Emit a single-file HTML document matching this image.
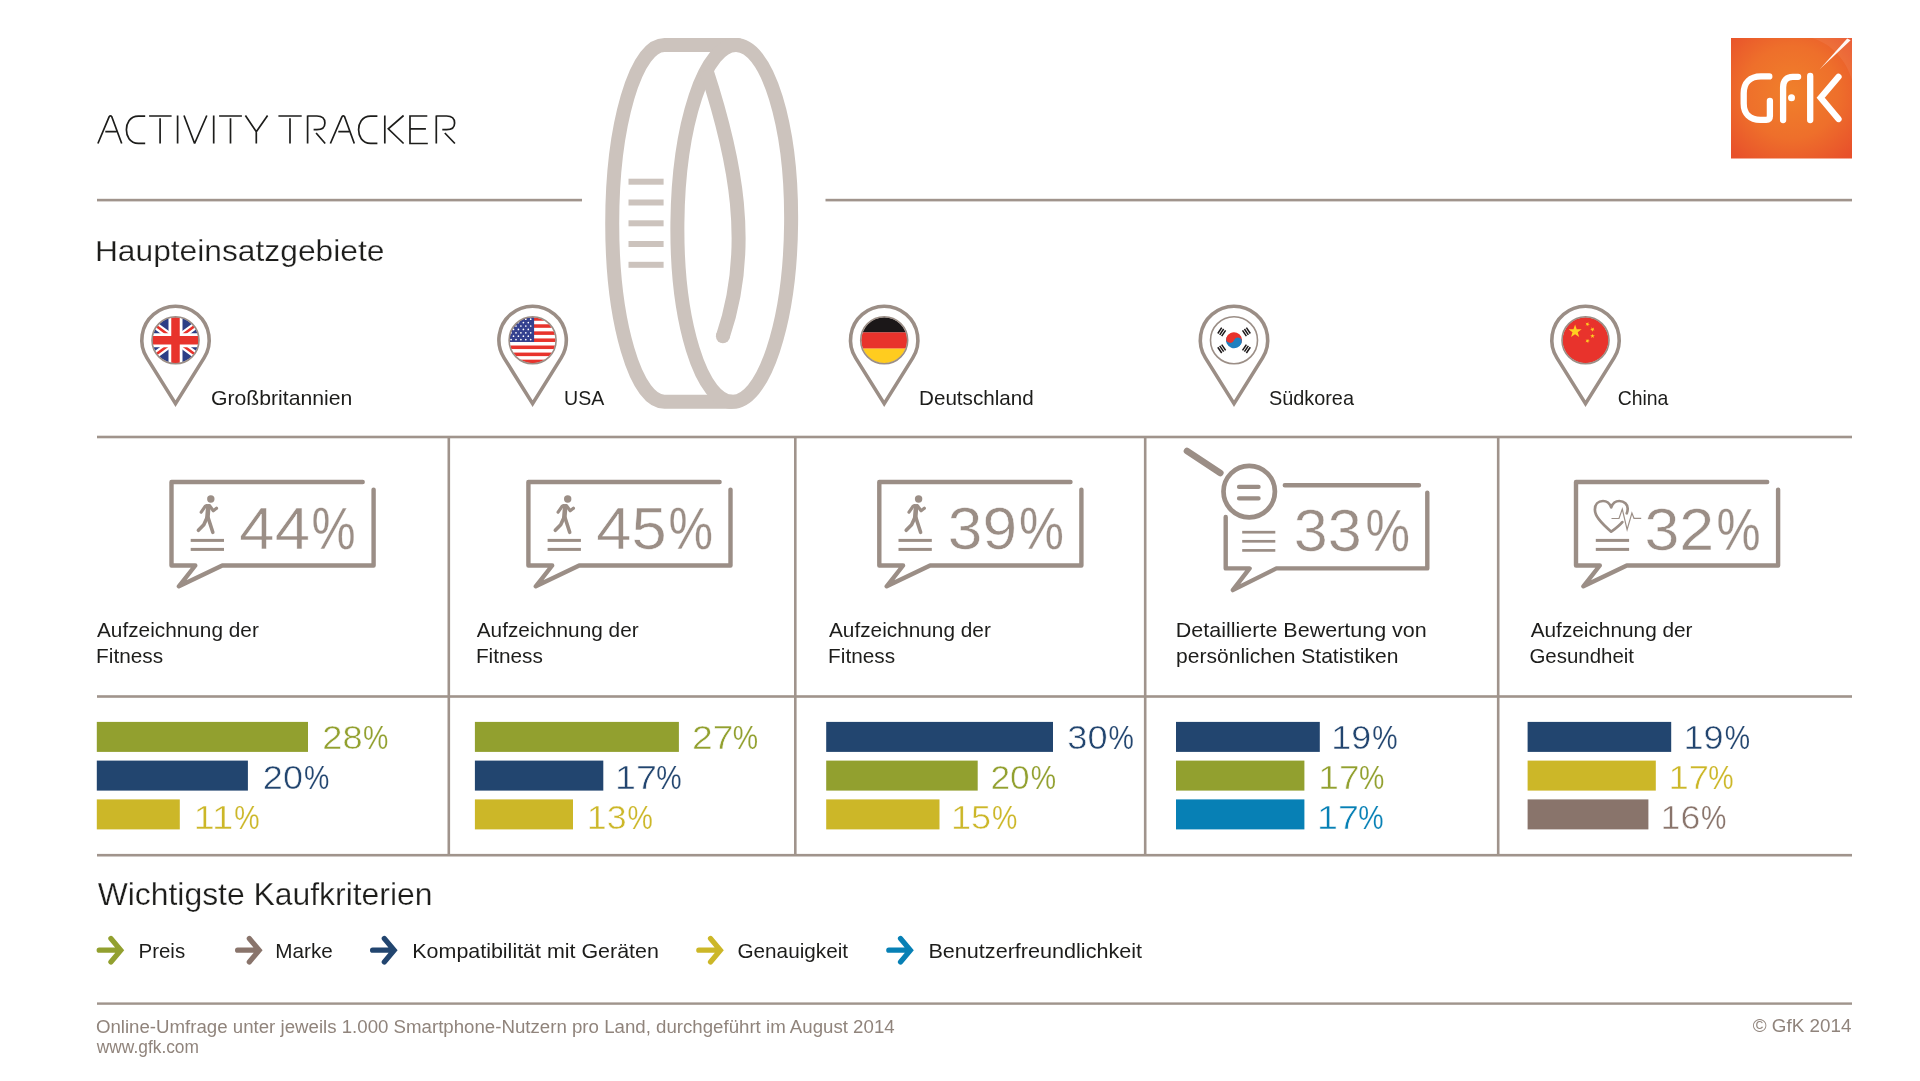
<!DOCTYPE html>
<html lang="de"><head><meta charset="utf-8"><title>Activity Tracker</title>
<style>
html,body{margin:0;padding:0;background:#fff;}
body{width:1920px;height:1081px;overflow:hidden;font-family:"Liberation Sans",sans-serif;}
svg{display:block;position:absolute;left:0;top:0;will-change:transform;}
text{font-family:"Liberation Sans",sans-serif;}
</style></head><body>
<svg width="1920" height="1081" viewBox="0 0 1920 1081">
<defs>
<radialGradient id="lg" cx="50%" cy="45%" r="70%">
<stop offset="0" stop-color="#f0802b"/><stop offset="0.55" stop-color="#ee6f2b"/><stop offset="1" stop-color="#e8512b"/>
</radialGradient>
<clipPath id="fc"><circle cx="0" cy="0" r="23"/></clipPath>
</defs>

<rect x="97" y="198.80" width="485" height="2.6" fill="#a0948c"/>
<rect x="825.5" y="198.80" width="1026.5" height="2.6" fill="#a0948c"/>
<rect x="97" y="435.70" width="1755" height="2.6" fill="#a0948c"/>
<rect x="97" y="695.20" width="1755" height="2.6" fill="#a0948c"/>
<rect x="97" y="853.90" width="1755" height="2.6" fill="#a0948c"/>
<rect x="97" y="1002.40" width="1755" height="2.4" fill="#a0948c"/>
<rect x="447.50" y="437" width="2.6" height="418.20000000000005" fill="#a0948c"/>
<rect x="794.00" y="437" width="2.6" height="418.20000000000005" fill="#a0948c"/>
<rect x="1143.90" y="437" width="2.6" height="418.20000000000005" fill="#a0948c"/>
<rect x="1496.90" y="437" width="2.6" height="418.20000000000005" fill="#a0948c"/>
<g fill="none" stroke="#ccc3bd" stroke-width="14" stroke-linecap="round">
<path d="M 738 45 H 664.5 A 52.3 178.4 0 0 0 664.5 401.8 H 732"/>
<ellipse cx="734.25" cy="223.4" rx="56.85" ry="178.4" transform="rotate(0.6 734.25 223.4)"/>
<path stroke-linecap="butt" d="M 706.3 70.0 C 735.4 158.8 753.2 247.5 722.9 336.3"/>
<circle cx="722.9" cy="336.3" r="7" fill="#ccc3bd" stroke="none"/>
</g>
<rect x="628.5" y="178.7" width="35.1" height="6" fill="#ccc3bd"/>
<rect x="628.5" y="199.5" width="35.1" height="6" fill="#ccc3bd"/>
<rect x="628.5" y="220.3" width="35.1" height="6" fill="#ccc3bd"/>
<rect x="628.5" y="241.0" width="35.1" height="6" fill="#ccc3bd"/>
<rect x="628.5" y="261.8" width="35.1" height="6" fill="#ccc3bd"/>
<path d="M 97.9 143.5 L 109.3 116.3 M 111.6 116.3 L 121.7 143.5 M 109.3 116.3 Q 110.4 115.4 111.6 116.3 M 105.3 131.7 L 116.5 131.7 M 145.2 116.2 H 138.4 C 129.4 116.2 126.4 124.0 126.4 129.75 C 126.4 135.5 129.4 143.3 138.4 143.3 H 145.2 M 149.1 116.0 L 171.6 116.0 M 160.1 118.2 L 160.1 143.5 M 177.6 115.5 L 177.6 143.5 M 184.0 115.5 L 194.6 143.5 L 206.8 115.5 M 213.7 115.5 L 213.7 143.5 M 219.1 116.0 L 241.9 116.0 M 230.5 118.2 L 230.5 143.5 M 245.4 115.5 L 256.3 131.7 L 267.6 115.5 M 256.3 131.7 L 256.3 143.5 M 278.4 116.0 L 301.7 116.0 M 290.0 118.2 L 290.0 143.5 M 307.6 115.5 L 307.6 143.5 M 307.6 116.0 H 316.9 C 322.9 116.0 324.9 119.5 324.9 123.0 C 324.9 127.0 322.9 129.7 316.9 129.7 H 313.6 M 316.1 133.0 L 325.2 143.5 M 330.4 143.5 L 342.1 116.3 M 344.4 116.3 L 354.3 143.5 M 342.1 116.3 Q 343.2 115.4 344.4 116.3 M 338.3 131.7 L 349.2 131.7 M 377.4 116.2 H 370.6 C 361.6 116.2 358.6 124.0 358.6 129.75 C 358.6 135.5 361.6 143.3 370.6 143.3 H 377.4 M 384.8 115.5 L 384.8 143.5 M 403.6 115.5 L 388.3 128.9 L 403.6 143.5 M 427.3 116.0 L 410.0 116.0 L 410.0 143.5 L 427.8 143.5 M 410.0 128.9 L 425.9 128.9 M 436.3 115.5 L 436.3 143.5 M 436.3 116.0 H 446.6 C 452.6 116.0 454.6 119.5 454.6 123.0 C 454.6 127.0 452.6 129.7 446.6 129.7 H 442.3 M 444.8 133.0 L 454.9 143.5" fill="none" stroke="#1d1d1b" stroke-width="1.7" stroke-linejoin="miter" stroke-miterlimit="2"/>
<text x="97" y="143" font-size="40" fill="none" textLength="358" lengthAdjust="spacingAndGlyphs">ACTIVITY TRACKER</text>
<text x="94.90" y="261.3" font-size="29.5" fill="#1d1d1b" textLength="289.52" lengthAdjust="spacingAndGlyphs" stroke="#fff" stroke-width="0.25">Haupteinsatzgebiete</text>
<rect x="1731" y="38" width="121" height="120.5" fill="url(#lg)"/>
<g fill="none" stroke="#fff" stroke-linecap="round" stroke-linejoin="round" stroke-width="6.3">
<path d="M 1769.3 76.4 H 1760.9 C 1750.0 76.4 1743.7 83.0 1743.7 93.3 V 103.5 C 1743.7 113.7 1750.0 119.8 1760.3 119.8 H 1766.3 Q 1769.9 119.8 1769.9 116.1 V 100.8"/>
<path d="M 1798.1 76.8 H 1792.7 C 1786.7 76.8 1783.1 80.6 1783.1 87.2 V 120.0"/>
<path d="M 1810.2 75.9 V 120.0"/>
<path stroke-linejoin="miter" d="M 1838.5 76.8 L 1820.7 97.8 L 1838.5 119.0"/>
</g>
<circle cx="1791.5" cy="97.8" r="3.5" fill="#fff"/>
<path d="M 1819.5 69.5 L 1847.2 38.6 L 1850.6 40.2 Z" fill="#fff" opacity="0.95"/>
<path d="M 1852 38 V 80 C 1846 60 1832 44 1812 38 Z" fill="#fff" opacity="0.07"/>
<path d="M 175.5 403.6 L 146.92 357.86 A 33.7 33.7 0 1 1 204.08 357.86 Z" fill="none" stroke="#9b8e86" stroke-width="3.6" stroke-linejoin="miter"/>
<path d="M 532.6 403.6 L 504.02 357.86 A 33.7 33.7 0 1 1 561.18 357.86 Z" fill="none" stroke="#9b8e86" stroke-width="3.6" stroke-linejoin="miter"/>
<path d="M 884.2 403.6 L 855.62 357.86 A 33.7 33.7 0 1 1 912.78 357.86 Z" fill="none" stroke="#9b8e86" stroke-width="3.6" stroke-linejoin="miter"/>
<path d="M 1234.0 403.6 L 1205.42 357.86 A 33.7 33.7 0 1 1 1262.58 357.86 Z" fill="none" stroke="#9b8e86" stroke-width="3.6" stroke-linejoin="miter"/>
<path d="M 1585.5 403.6 L 1556.92 357.86 A 33.7 33.7 0 1 1 1614.08 357.86 Z" fill="none" stroke="#9b8e86" stroke-width="3.6" stroke-linejoin="miter"/>
<g transform="translate(175.5 340.2)"><g clip-path="url(#fc)">
<rect x="-24" y="-24" width="48" height="48" fill="#2c3e86"/>
<path d="M -30 -22 L 30 22 M -30 22 L 30 -22" stroke="#fff" stroke-width="7"/>
<path d="M -30 -22 L 30 22 M -30 22 L 30 -22" stroke="#e8332c" stroke-width="2.6"/>
<path d="M 0 -24 V 24 M -24 0 H 24" stroke="#fff" stroke-width="14"/>
<path d="M 0 -24 V 24 M -24 0 H 24" stroke="#e8332c" stroke-width="8.5"/>
</g><circle r="23.5" fill="none" stroke="#9b8e86" stroke-width="1.6"/></g>
<g transform="translate(532.6 340.2)"><g clip-path="url(#fc)">
<rect x="-24" y="-24" width="48" height="48" fill="#fff"/>
<rect x="-24" y="-23.00" width="48" height="3.54" fill="#e8332c"/>
<rect x="-24" y="-15.92" width="48" height="3.54" fill="#e8332c"/>
<rect x="-24" y="-8.85" width="48" height="3.54" fill="#e8332c"/>
<rect x="-24" y="-1.77" width="48" height="3.54" fill="#e8332c"/>
<rect x="-24" y="5.31" width="48" height="3.54" fill="#e8332c"/>
<rect x="-24" y="12.38" width="48" height="3.54" fill="#e8332c"/>
<rect x="-24" y="19.46" width="48" height="3.54" fill="#e8332c"/>
<rect x="-24" y="-23" width="25.5" height="24.77" fill="#34418f"/>
<circle cx="-21.5" cy="-21.0" r="0.85" fill="#fff"/>
<circle cx="-16.6" cy="-21.0" r="0.85" fill="#fff"/>
<circle cx="-11.7" cy="-21.0" r="0.85" fill="#fff"/>
<circle cx="-6.8" cy="-21.0" r="0.85" fill="#fff"/>
<circle cx="-1.9" cy="-21.0" r="0.85" fill="#fff"/>
<circle cx="-19.1" cy="-17.6" r="0.85" fill="#fff"/>
<circle cx="-14.2" cy="-17.6" r="0.85" fill="#fff"/>
<circle cx="-9.2" cy="-17.6" r="0.85" fill="#fff"/>
<circle cx="-4.3" cy="-17.6" r="0.85" fill="#fff"/>
<circle cx="-21.5" cy="-14.2" r="0.85" fill="#fff"/>
<circle cx="-16.6" cy="-14.2" r="0.85" fill="#fff"/>
<circle cx="-11.7" cy="-14.2" r="0.85" fill="#fff"/>
<circle cx="-6.8" cy="-14.2" r="0.85" fill="#fff"/>
<circle cx="-1.9" cy="-14.2" r="0.85" fill="#fff"/>
<circle cx="-19.1" cy="-10.8" r="0.85" fill="#fff"/>
<circle cx="-14.2" cy="-10.8" r="0.85" fill="#fff"/>
<circle cx="-9.2" cy="-10.8" r="0.85" fill="#fff"/>
<circle cx="-4.3" cy="-10.8" r="0.85" fill="#fff"/>
<circle cx="-21.5" cy="-7.4" r="0.85" fill="#fff"/>
<circle cx="-16.6" cy="-7.4" r="0.85" fill="#fff"/>
<circle cx="-11.7" cy="-7.4" r="0.85" fill="#fff"/>
<circle cx="-6.8" cy="-7.4" r="0.85" fill="#fff"/>
<circle cx="-1.9" cy="-7.4" r="0.85" fill="#fff"/>
<circle cx="-19.1" cy="-4.0" r="0.85" fill="#fff"/>
<circle cx="-14.2" cy="-4.0" r="0.85" fill="#fff"/>
<circle cx="-9.2" cy="-4.0" r="0.85" fill="#fff"/>
<circle cx="-4.3" cy="-4.0" r="0.85" fill="#fff"/>
<circle cx="-21.5" cy="-0.6" r="0.85" fill="#fff"/>
<circle cx="-16.6" cy="-0.6" r="0.85" fill="#fff"/>
<circle cx="-11.7" cy="-0.6" r="0.85" fill="#fff"/>
<circle cx="-6.8" cy="-0.6" r="0.85" fill="#fff"/>
<circle cx="-1.9" cy="-0.6" r="0.85" fill="#fff"/>
</g><circle r="23.5" fill="none" stroke="#9b8e86" stroke-width="1.6"/></g>
<g transform="translate(884.2 340.2)"><g clip-path="url(#fc)">
<rect x="-24" y="-24" width="48" height="16.3" fill="#1b1718"/><rect x="-24" y="-7.8" width="48" height="16.3" fill="#e8332c"/><rect x="-24" y="8.4" width="48" height="16" fill="#ffcc1f"/>
</g><circle r="23.5" fill="none" stroke="#9b8e86" stroke-width="1.6"/></g>
<g transform="translate(1234.0 340.2)"><g clip-path="url(#fc)">
<rect x="-24" y="-24" width="48" height="48" fill="#fff"/>
<g transform="rotate(20)"><path d="M -8 0 A 8 8 0 0 1 8 0 Z" fill="#e8332c"/><path d="M -8 0 A 8 8 0 0 0 8 0 Z" fill="#1f80c0"/><circle cx="-4" cy="0" r="4" fill="#e8332c"/><circle cx="4" cy="0" r="4" fill="#1f80c0"/></g>
<g transform="translate(-12.3 -8.3) rotate(-56)" fill="#1b1718"><rect x="-3.5" y="-3.1" width="7" height="1.5"/><rect x="-3.5" y="-0.75" width="7" height="1.5"/><rect x="-3.5" y="1.6" width="7" height="1.5"/></g>
<g transform="translate(12.4 -8.3) rotate(56)" fill="#1b1718"><rect x="-3.5" y="-3.1" width="7" height="1.5"/><rect x="-3.5" y="-0.75" width="7" height="1.5"/><rect x="-3.5" y="1.6" width="7" height="1.5"/></g>
<g transform="translate(-12.3 8.6) rotate(56)" fill="#1b1718"><rect x="-3.5" y="-3.1" width="7" height="1.5"/><rect x="-3.5" y="-0.75" width="7" height="1.5"/><rect x="-3.5" y="1.6" width="7" height="1.5"/></g>
<g transform="translate(12.4 8.6) rotate(-56)" fill="#1b1718"><rect x="-3.5" y="-3.1" width="7" height="1.5"/><rect x="-3.5" y="-0.75" width="7" height="1.5"/><rect x="-3.5" y="1.6" width="7" height="1.5"/></g>
</g><circle r="23.5" fill="none" stroke="#9b8e86" stroke-width="1.6"/></g>
<g transform="translate(1585.5 340.2)"><g clip-path="url(#fc)">
<rect x="-24" y="-24" width="48" height="48" fill="#e8332c"/>
<polygon points="-10.40,-15.70 -8.78,-11.03 -3.84,-10.93 -7.78,-7.95 -6.34,-3.22 -10.40,-6.04 -14.46,-3.22 -13.02,-7.95 -16.96,-10.93 -12.02,-11.03" fill="#ffcf21"/>
<polygon points="2.82,-18.26 2.80,-16.54 4.40,-15.92 2.76,-15.41 2.66,-13.69 1.67,-15.10 0.01,-14.66 1.04,-16.03 0.11,-17.48 1.74,-16.92" fill="#ffcf21"/>
<polygon points="8.54,-12.64 7.93,-11.03 9.23,-9.90 7.51,-9.99 6.83,-8.41 6.38,-10.06 4.67,-10.22 6.11,-11.16 5.73,-12.84 7.07,-11.76" fill="#ffcf21"/>
<polygon points="7.00,-6.50 7.56,-4.88 9.28,-4.84 7.91,-3.80 8.41,-2.16 7.00,-3.14 5.59,-2.16 6.09,-3.80 4.72,-4.84 6.44,-4.88" fill="#ffcf21"/>
<polygon points="2.82,-1.56 2.80,0.16 4.40,0.78 2.76,1.29 2.66,3.01 1.67,1.60 0.01,2.04 1.04,0.67 0.11,-0.78 1.74,-0.22" fill="#ffcf21"/>
</g><circle r="23.5" fill="none" stroke="#9b8e86" stroke-width="1.6"/></g>
<text x="210.93" y="405.4" font-size="20.6" fill="#1d1d1b" textLength="141.44" lengthAdjust="spacingAndGlyphs">Großbritannien</text>
<text x="564.09" y="405.4" font-size="20.6" fill="#1d1d1b" textLength="40.25" lengthAdjust="spacingAndGlyphs">USA</text>
<text x="919.01" y="405.4" font-size="20.6" fill="#1d1d1b" textLength="114.72" lengthAdjust="spacingAndGlyphs">Deutschland</text>
<text x="1268.90" y="405.4" font-size="20.6" fill="#1d1d1b" textLength="85.10" lengthAdjust="spacingAndGlyphs">Südkorea</text>
<text x="1617.71" y="405.4" font-size="20.6" fill="#1d1d1b" textLength="50.69" lengthAdjust="spacingAndGlyphs">China</text>
<path d="M 362.7 482 H 171.5 V 565.5 H 195.3 L 178.9 586.3 L 222.3 565.5 H 373.6 V 489.6" fill="none" stroke="#9b8e86" stroke-width="4.4" stroke-linecap="round" stroke-linejoin="round"/>
<rect x="190.7" y="538.9" width="33.3" height="3" fill="#9b8e86"/><rect x="190.7" y="547.9" width="33.3" height="3" fill="#9b8e86"/>
<g transform="translate(0.0 0)" fill="none" stroke="#9b8e86" stroke-linecap="round" stroke-linejoin="round">
<circle cx="210.8" cy="499" r="3.7" fill="#9b8e86" stroke="none"/>
<path stroke-width="4.6" d="M 208.3 506.4 L 207.4 518"/>
<path stroke-width="3.2" d="M 206.8 505.6 L 205.3 506.2 L 201.2 512.2"/>
<path stroke-width="3.2" d="M 209.6 505.8 L 213.3 510.7 L 216.5 508.3"/>
<path stroke-width="3.6" d="M 206.9 518 L 203.8 524.8 L 198.4 530.3"/>
<path stroke-width="3.6" d="M 208.3 518.2 L 212.8 532.3"/>
</g>
<text x="239.34" y="548.5" font-size="60" fill="#9b8e86" textLength="70.62" lengthAdjust="spacingAndGlyphs" stroke="#fff" stroke-width="0.55">44</text>
<text x="311.43" y="548.5" font-size="60" fill="#9b8e86" textLength="44.14" lengthAdjust="spacingAndGlyphs" stroke="#fff" stroke-width="0.3">%</text>
<path d="M 719.6 482 H 528.4 V 565.5 H 552.2 L 535.8 586.3 L 579.2 565.5 H 730.5 V 489.6" fill="none" stroke="#9b8e86" stroke-width="4.4" stroke-linecap="round" stroke-linejoin="round"/>
<rect x="547.6" y="538.9" width="33.3" height="3" fill="#9b8e86"/><rect x="547.6" y="547.9" width="33.3" height="3" fill="#9b8e86"/>
<g transform="translate(356.9 0)" fill="none" stroke="#9b8e86" stroke-linecap="round" stroke-linejoin="round">
<circle cx="210.8" cy="499" r="3.7" fill="#9b8e86" stroke="none"/>
<path stroke-width="4.6" d="M 208.3 506.4 L 207.4 518"/>
<path stroke-width="3.2" d="M 206.8 505.6 L 205.3 506.2 L 201.2 512.2"/>
<path stroke-width="3.2" d="M 209.6 505.8 L 213.3 510.7 L 216.5 508.3"/>
<path stroke-width="3.6" d="M 206.9 518 L 203.8 524.8 L 198.4 530.3"/>
<path stroke-width="3.6" d="M 208.3 518.2 L 212.8 532.3"/>
</g>
<text x="596.35" y="548.5" font-size="60" fill="#9b8e86" textLength="70.41" lengthAdjust="spacingAndGlyphs" stroke="#fff" stroke-width="0.55">45</text>
<text x="668.41" y="548.5" font-size="60" fill="#9b8e86" textLength="44.57" lengthAdjust="spacingAndGlyphs" stroke="#fff" stroke-width="0.3">%</text>
<path d="M 1070.5 482 H 879.3 V 565.5 H 903.1 L 886.7 586.3 L 930.1 565.5 H 1081.4 V 489.6" fill="none" stroke="#9b8e86" stroke-width="4.4" stroke-linecap="round" stroke-linejoin="round"/>
<rect x="898.5" y="538.9" width="33.3" height="3" fill="#9b8e86"/><rect x="898.5" y="547.9" width="33.3" height="3" fill="#9b8e86"/>
<g transform="translate(707.8 0)" fill="none" stroke="#9b8e86" stroke-linecap="round" stroke-linejoin="round">
<circle cx="210.8" cy="499" r="3.7" fill="#9b8e86" stroke="none"/>
<path stroke-width="4.6" d="M 208.3 506.4 L 207.4 518"/>
<path stroke-width="3.2" d="M 206.8 505.6 L 205.3 506.2 L 201.2 512.2"/>
<path stroke-width="3.2" d="M 209.6 505.8 L 213.3 510.7 L 216.5 508.3"/>
<path stroke-width="3.6" d="M 206.9 518 L 203.8 524.8 L 198.4 530.3"/>
<path stroke-width="3.6" d="M 208.3 518.2 L 212.8 532.3"/>
</g>
<text x="947.83" y="548.5" font-size="60" fill="#9b8e86" textLength="69.22" lengthAdjust="spacingAndGlyphs" stroke="#fff" stroke-width="0.55">39</text>
<text x="1019.10" y="548.5" font-size="60" fill="#9b8e86" textLength="44.90" lengthAdjust="spacingAndGlyphs" stroke="#fff" stroke-width="0.3">%</text>
<path d="M 1767.2 482 H 1576.0 V 565.5 H 1599.8 L 1583.4 586.3 L 1626.8 565.5 H 1778.1 V 489.6" fill="none" stroke="#9b8e86" stroke-width="4.4" stroke-linecap="round" stroke-linejoin="round"/>
<rect x="1595.8" y="538.9" width="33.3" height="3" fill="#9b8e86"/><rect x="1595.8" y="547.9" width="33.3" height="3" fill="#9b8e86"/>
<path d="M 1611.2 507.3 C 1609.5 503 1606.5 501 1603 501 C 1598 501 1594.9 504.6 1594.9 509.4 C 1594.9 513.5 1596.8 516.5 1598.8 519.1 C 1602 523.3 1607 528 1611.2 531.7 C 1615.5 528.6 1619.5 525.5 1622.3 522.1 M 1611.2 507.3 C 1612.8 503 1615.8 501 1619.3 501 C 1624.3 501 1627.7 504.4 1627.7 508.4 C 1627.7 510.2 1627.4 511.8 1626.8 513.3" fill="none" stroke="#9b8e86" stroke-width="2.7" stroke-linecap="round" stroke-linejoin="round"/>
<path d="M 1611.5 518.5 H 1619 L 1622.3 509.1 L 1627.1 529.6 L 1631.9 513 L 1634 518.3 H 1641.2" fill="none" stroke="#9b8e86" stroke-width="1.2" stroke-linejoin="miter"/>
<text x="1644.41" y="550.0" font-size="60" fill="#9b8e86" textLength="69.85" lengthAdjust="spacingAndGlyphs" stroke="#fff" stroke-width="0.55">32</text>
<text x="1716.43" y="550.0" font-size="60" fill="#9b8e86" textLength="44.14" lengthAdjust="spacingAndGlyphs" stroke="#fff" stroke-width="0.3">%</text>
<path d="M 1284.8 485.3 H 1419 M 1427.3 492.6 V 568.4 H 1276.4 L 1232.8 590.1 L 1249.6 568.4 H 1225.7 V 517" fill="none" stroke="#9b8e86" stroke-width="4.4" stroke-linecap="round" stroke-linejoin="round"/>
<circle cx="1249.2" cy="491.6" r="25.7" fill="none" stroke="#9b8e86" stroke-width="4.7"/>
<path d="M 1187 451 L 1220.3 473" fill="none" stroke="#9b8e86" stroke-width="6.6" stroke-linecap="round"/>
<path d="M 1239 486.9 H 1258.6 M 1239 498.4 H 1258.6" fill="none" stroke="#9b8e86" stroke-width="4.2" stroke-linecap="round"/>
<rect x="1242.2" y="530.85" width="33.1" height="2.7" fill="#9b8e86"/>
<rect x="1242.2" y="539.95" width="33.1" height="2.7" fill="#9b8e86"/>
<rect x="1242.2" y="549.05" width="33.1" height="2.7" fill="#9b8e86"/>
<text x="1293.77" y="551.4" font-size="60" fill="#9b8e86" textLength="68.02" lengthAdjust="spacingAndGlyphs" stroke="#fff" stroke-width="0.55">33</text>
<text x="1365.42" y="551.4" font-size="60" fill="#9b8e86" textLength="44.46" lengthAdjust="spacingAndGlyphs" stroke="#fff" stroke-width="0.3">%</text>
<text x="96.96" y="637.3" font-size="21" fill="#1d1d1b" textLength="161.89" lengthAdjust="spacingAndGlyphs">Aufzeichnung der</text>
<text x="96.10" y="662.9" font-size="21" fill="#1d1d1b" textLength="66.95" lengthAdjust="spacingAndGlyphs">Fitness</text>
<text x="476.76" y="637.3" font-size="21" fill="#1d1d1b" textLength="161.89" lengthAdjust="spacingAndGlyphs">Aufzeichnung der</text>
<text x="475.90" y="662.9" font-size="21" fill="#1d1d1b" textLength="66.95" lengthAdjust="spacingAndGlyphs">Fitness</text>
<text x="828.96" y="637.3" font-size="21" fill="#1d1d1b" textLength="161.89" lengthAdjust="spacingAndGlyphs">Aufzeichnung der</text>
<text x="828.10" y="662.9" font-size="21" fill="#1d1d1b" textLength="66.95" lengthAdjust="spacingAndGlyphs">Fitness</text>
<text x="1175.84" y="637.3" font-size="21" fill="#1d1d1b" textLength="250.96" lengthAdjust="spacingAndGlyphs">Detaillierte Bewertung von</text>
<text x="1176.04" y="662.9" font-size="21" fill="#1d1d1b" textLength="222.32" lengthAdjust="spacingAndGlyphs">persönlichen Statistiken</text>
<text x="1530.66" y="637.3" font-size="21" fill="#1d1d1b" textLength="161.89" lengthAdjust="spacingAndGlyphs">Aufzeichnung der</text>
<text x="1529.47" y="662.9" font-size="21" fill="#1d1d1b" textLength="104.58" lengthAdjust="spacingAndGlyphs">Gesundheit</text>
<rect x="96.8" y="721.9" width="211.2" height="30" fill="#92a02f"/>
<text x="322.38" y="749.0" font-size="33" fill="#92a02f" textLength="40.30" lengthAdjust="spacingAndGlyphs" stroke="#fff" stroke-width="0.55">28</text>
<text x="362.88" y="749.0" font-size="33" fill="#92a02f" textLength="25.33" lengthAdjust="spacingAndGlyphs" stroke="#fff" stroke-width="0.22000000000000003">%</text>
<rect x="96.8" y="760.6" width="151.1" height="30" fill="#22456f"/>
<text x="262.89" y="789.2" font-size="33" fill="#22456f" textLength="40.12" lengthAdjust="spacingAndGlyphs" stroke="#fff" stroke-width="0.55">20</text>
<text x="303.98" y="789.2" font-size="33" fill="#22456f" textLength="25.33" lengthAdjust="spacingAndGlyphs" stroke="#fff" stroke-width="0.22000000000000003">%</text>
<rect x="96.8" y="799.4" width="83.0" height="30" fill="#ccb728"/>
<text x="193.59" y="829.0" font-size="33" fill="#ccb728" textLength="39.68" lengthAdjust="spacingAndGlyphs" stroke="#fff" stroke-width="0.55">11</text>
<text x="234.18" y="829.0" font-size="33" fill="#ccb728" textLength="25.33" lengthAdjust="spacingAndGlyphs" stroke="#fff" stroke-width="0.22000000000000003">%</text>
<rect x="474.9" y="721.9" width="204.0" height="30" fill="#92a02f"/>
<text x="691.93" y="749.0" font-size="33" fill="#92a02f" textLength="41.45" lengthAdjust="spacingAndGlyphs" stroke="#fff" stroke-width="0.55">27</text>
<text x="732.68" y="749.0" font-size="33" fill="#92a02f" textLength="25.33" lengthAdjust="spacingAndGlyphs" stroke="#fff" stroke-width="0.22000000000000003">%</text>
<rect x="474.9" y="760.6" width="128.4" height="30" fill="#22456f"/>
<text x="615.13" y="789.2" font-size="33" fill="#22456f" textLength="41.86" lengthAdjust="spacingAndGlyphs" stroke="#fff" stroke-width="0.55">17</text>
<text x="656.28" y="789.2" font-size="33" fill="#22456f" textLength="25.33" lengthAdjust="spacingAndGlyphs" stroke="#fff" stroke-width="0.22000000000000003">%</text>
<rect x="474.9" y="799.4" width="98.1" height="30" fill="#ccb728"/>
<text x="586.88" y="829.0" font-size="33" fill="#ccb728" textLength="39.80" lengthAdjust="spacingAndGlyphs" stroke="#fff" stroke-width="0.55">13</text>
<text x="627.38" y="829.0" font-size="33" fill="#ccb728" textLength="25.33" lengthAdjust="spacingAndGlyphs" stroke="#fff" stroke-width="0.22000000000000003">%</text>
<rect x="826.2" y="721.9" width="226.8" height="30" fill="#22456f"/>
<text x="1067.32" y="749.0" font-size="33" fill="#22456f" textLength="40.29" lengthAdjust="spacingAndGlyphs" stroke="#fff" stroke-width="0.55">30</text>
<text x="1108.58" y="749.0" font-size="33" fill="#22456f" textLength="25.33" lengthAdjust="spacingAndGlyphs" stroke="#fff" stroke-width="0.22000000000000003">%</text>
<rect x="826.2" y="760.6" width="151.5" height="30" fill="#92a02f"/>
<text x="990.43" y="789.2" font-size="33" fill="#92a02f" textLength="39.25" lengthAdjust="spacingAndGlyphs" stroke="#fff" stroke-width="0.55">20</text>
<text x="1030.68" y="789.2" font-size="33" fill="#92a02f" textLength="25.33" lengthAdjust="spacingAndGlyphs" stroke="#fff" stroke-width="0.22000000000000003">%</text>
<rect x="826.2" y="799.4" width="113.3" height="30" fill="#ccb728"/>
<text x="950.95" y="829.0" font-size="33" fill="#ccb728" textLength="40.17" lengthAdjust="spacingAndGlyphs" stroke="#fff" stroke-width="0.55">15</text>
<text x="991.88" y="829.0" font-size="33" fill="#ccb728" textLength="25.33" lengthAdjust="spacingAndGlyphs" stroke="#fff" stroke-width="0.22000000000000003">%</text>
<rect x="1176" y="721.9" width="143.8" height="30" fill="#22456f"/>
<text x="1331.27" y="749.0" font-size="33" fill="#22456f" textLength="39.82" lengthAdjust="spacingAndGlyphs" stroke="#fff" stroke-width="0.55">19</text>
<text x="1372.18" y="749.0" font-size="33" fill="#22456f" textLength="25.33" lengthAdjust="spacingAndGlyphs" stroke="#fff" stroke-width="0.22000000000000003">%</text>
<rect x="1176" y="760.6" width="128.4" height="30" fill="#92a02f"/>
<text x="1318.37" y="789.2" font-size="33" fill="#92a02f" textLength="41.29" lengthAdjust="spacingAndGlyphs" stroke="#fff" stroke-width="0.55">17</text>
<text x="1358.98" y="789.2" font-size="33" fill="#92a02f" textLength="25.33" lengthAdjust="spacingAndGlyphs" stroke="#fff" stroke-width="0.22000000000000003">%</text>
<rect x="1176" y="799.4" width="128.4" height="30" fill="#0780b5"/>
<text x="1317.13" y="829.0" font-size="33" fill="#0780b5" textLength="41.86" lengthAdjust="spacingAndGlyphs" stroke="#fff" stroke-width="0.55">17</text>
<text x="1358.28" y="829.0" font-size="33" fill="#0780b5" textLength="25.33" lengthAdjust="spacingAndGlyphs" stroke="#fff" stroke-width="0.22000000000000003">%</text>
<rect x="1527.6" y="721.9" width="143.6" height="30" fill="#22456f"/>
<text x="1683.45" y="749.0" font-size="33" fill="#22456f" textLength="40.16" lengthAdjust="spacingAndGlyphs" stroke="#fff" stroke-width="0.55">19</text>
<text x="1724.68" y="749.0" font-size="33" fill="#22456f" textLength="25.33" lengthAdjust="spacingAndGlyphs" stroke="#fff" stroke-width="0.22000000000000003">%</text>
<rect x="1527.6" y="760.6" width="128.2" height="30" fill="#ccb728"/>
<text x="1668.43" y="789.2" font-size="33" fill="#ccb728" textLength="40.50" lengthAdjust="spacingAndGlyphs" stroke="#fff" stroke-width="0.55">17</text>
<text x="1708.28" y="789.2" font-size="33" fill="#ccb728" textLength="25.33" lengthAdjust="spacingAndGlyphs" stroke="#fff" stroke-width="0.22000000000000003">%</text>
<rect x="1527.6" y="799.4" width="120.8" height="30" fill="#89746b"/>
<text x="1660.58" y="829.0" font-size="33" fill="#89746b" textLength="39.80" lengthAdjust="spacingAndGlyphs" stroke="#fff" stroke-width="0.55">16</text>
<text x="1701.08" y="829.0" font-size="33" fill="#89746b" textLength="25.33" lengthAdjust="spacingAndGlyphs" stroke="#fff" stroke-width="0.22000000000000003">%</text>
<text x="97.66" y="905.2" font-size="30.5" fill="#1d1d1b" textLength="334.81" lengthAdjust="spacingAndGlyphs" stroke="#fff" stroke-width="0.25">Wichtigste Kaufkriterien</text>
<path transform="translate(0.0 0)" d="M 99.2 950.2 H 120 M 110.9 938.5 L 120.8 950.2 L 110.9 962" fill="none" stroke="#92a02f" stroke-width="5.2" stroke-linecap="round" stroke-linejoin="miter"/>
<text x="138.52" y="957.8" font-size="20.6" fill="#1d1d1b" textLength="46.62" lengthAdjust="spacingAndGlyphs">Preis</text>
<path transform="translate(138.4 0)" d="M 99.2 950.2 H 120 M 110.9 938.5 L 120.8 950.2 L 110.9 962" fill="none" stroke="#89746b" stroke-width="5.2" stroke-linecap="round" stroke-linejoin="miter"/>
<text x="275.30" y="957.8" font-size="20.6" fill="#1d1d1b" textLength="57.52" lengthAdjust="spacingAndGlyphs">Marke</text>
<path transform="translate(273.4 0)" d="M 99.2 950.2 H 120 M 110.9 938.5 L 120.8 950.2 L 110.9 962" fill="none" stroke="#22456f" stroke-width="5.2" stroke-linecap="round" stroke-linejoin="miter"/>
<text x="412.34" y="957.8" font-size="20.6" fill="#1d1d1b" textLength="246.55" lengthAdjust="spacingAndGlyphs">Kompatibilität mit Geräten</text>
<path transform="translate(599.6 0)" d="M 99.2 950.2 H 120 M 110.9 938.5 L 120.8 950.2 L 110.9 962" fill="none" stroke="#ccb728" stroke-width="5.2" stroke-linecap="round" stroke-linejoin="miter"/>
<text x="737.46" y="957.8" font-size="20.6" fill="#1d1d1b" textLength="110.59" lengthAdjust="spacingAndGlyphs">Genauigkeit</text>
<path transform="translate(789.6 0)" d="M 99.2 950.2 H 120 M 110.9 938.5 L 120.8 950.2 L 110.9 962" fill="none" stroke="#0780b5" stroke-width="5.2" stroke-linecap="round" stroke-linejoin="miter"/>
<text x="928.43" y="957.8" font-size="20.6" fill="#1d1d1b" textLength="213.63" lengthAdjust="spacingAndGlyphs">Benutzerfreundlichkeit</text>
<text x="95.92" y="1032.8" font-size="17.5" fill="#90847c" textLength="798.73" lengthAdjust="spacingAndGlyphs">Online-Umfrage unter jeweils 1.000 Smartphone-Nutzern pro Land, durchgeführt im August 2014</text>
<text x="96.83" y="1053.1" font-size="17.5" fill="#90847c" textLength="102.12" lengthAdjust="spacingAndGlyphs">www.gfk.com</text>
<text x="1752.72" y="1032.4" font-size="17.5" fill="#90847c" textLength="98.64" lengthAdjust="spacingAndGlyphs">© GfK 2014</text>
</svg></body></html>
